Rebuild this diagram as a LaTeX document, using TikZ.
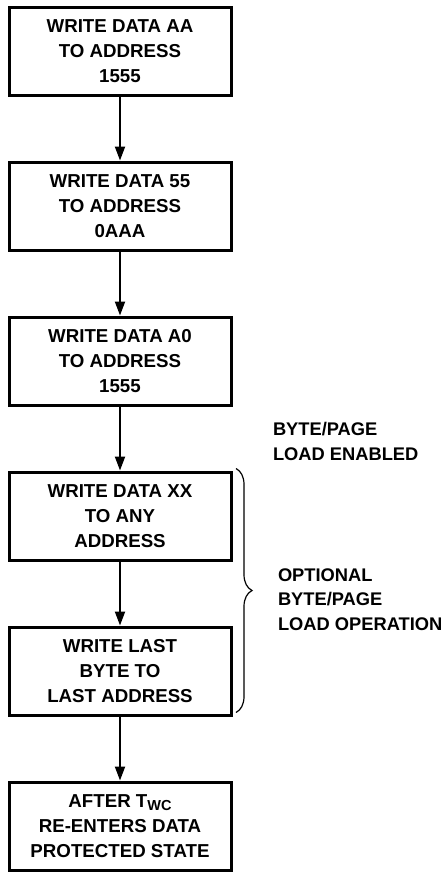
\documentclass[tikz,border=0pt]{standalone}
\usepackage{fontspec}
\setmainfont{Liberation Sans}
\usetikzlibrary{arrows.meta,positioning,decorations.pathreplacing}

\begin{document}
\begin{tikzpicture}[x=1pt,y=1pt,->,>={Triangle[length=14pt,width=10pt]},
                    line width=2pt,node distance=64pt]
  \tikzstyle{writebox}=[draw,line width=3pt,minimum width=222pt,
                        minimum height=88pt,align=center,
                        font=\bfseries\fontsize{18.7}{25}\selectfont]
  \tikzstyle{note}=[anchor=west,align=left,inner sep=0pt,
                    font=\bfseries\fontsize{18.3}{24.5}\selectfont]
  \useasboundingbox (0,0) rectangle (445,-873);

  \node[writebox] (w1) at (120,-51) {WRITE DATA AA\\TO ADDRESS\\1555};
  \node[writebox] (w2) [below=of w1] {WRITE DATA 55\\TO ADDRESS\\0AAA};
  \node[writebox] (w3) [below=of w2] {WRITE DATA A0\\TO ADDRESS\\1555};
  \node[writebox] (w4) [below=of w3] {WRITE DATA XX\\TO ANY\\ADDRESS};
  \node[writebox] (w5) [below=of w4] {WRITE LAST\\BYTE TO\\LAST ADDRESS};
  \node[writebox] (w6) [below=of w5]
    {AFTER T\raisebox{-3.5pt}{\fontsize{14.5}{14.5}\selectfont WC}\\RE-ENTERS DATA\\PROTECTED STATE};

  \node[note] (enabled) at (272,-441.5) {BYTE/PAGE\\LOAD ENABLED};
  \node[note] (optional) at (277,-599.5) {OPTIONAL\\BYTE/PAGE\\LOAD OPERATION};

  \path (w1) edge (w2)
        (w2) edge (w3)
        (w3) edge (w4)
        (w4) edge (w5)
        (w5) edge (w6);

  % brace round the optional load steps
  \draw[-,line width=1.2pt,decorate,decoration={brace,amplitude=16pt}]
    ([xshift=3.5pt,yshift=2pt]w4.north east) -- ([xshift=3.5pt,yshift=4pt]w5.south east);
\end{tikzpicture}
\end{document}
